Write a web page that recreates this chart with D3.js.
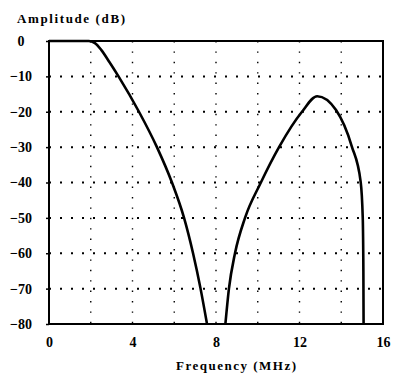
<!DOCTYPE html>
<html>
<head>
<meta charset="utf-8">
<script src="https://cdn.jsdelivr.net/npm/d3@7"></script>
<style>
  html, body { margin: 0; padding: 0; background: #fff; }
  text { font-family: "Liberation Serif", serif; font-weight: bold; fill: #000; }
</style>
</head>
<body>
<div id="chart"></div>
<script>
// values
const xTicks = [0, 4, 8, 12, 16];
const xGrid = [2, 4, 6, 8, 10, 12, 14];
const yTicks = [0, -10, -20, -30, -40, -50, -60, -70, -80];
const yGrid = [-10, -20, -30, -40, -50, -60, -70];

// low-pass response (MHz, dB)
const lowFreq = [0, 1.9, 2.2, 2.5, 2.9, 3.33, 4.31, 5.17, 5.89, 6.47, 6.9, 7.26, 7.57];
const lowAmp = [0, 0, -0.6, -2.5, -6, -10, -20, -30, -40, -50, -60, -70, -80];

// band-pass response (MHz, dB)
const bandFreq = [8.45, 8.62, 8.91, 9.39, 10.15, 11.02, 12.12, 12.85, 13.75, 14.5, 14.93, 15.03, 15.06, 15.07];
const bandAmp = [-80, -70, -60, -50, -40, -30, -20, -15.6, -19.5, -29.7, -39.8, -50, -65, -80];

const width = 401, height = 380;
const plotLeft = 49, plotRight = 383, plotTop = 41, plotBottom = 324;

const svg = d3.select("#chart").append("svg")
  .attr("width", width)
  .attr("height", height);

const x = d3.scaleLinear().domain([0, 16]).range([plotLeft, plotRight]);
const y = d3.scaleLinear().domain([0, -80]).range([plotTop, plotBottom]);

// dotted grid
svg.append("g")
  .selectAll("line")
  .data(xGrid)
  .join("line")
  .attr("x1", d => x(d)).attr("x2", d => x(d))
  .attr("y1", plotTop).attr("y2", plotBottom)
  .attr("stroke", "#000")
  .attr("stroke-width", 1.4)
  .attr("stroke-dasharray", "1.4,9");

svg.append("g")
  .selectAll("line")
  .data(yGrid)
  .join("line")
  .attr("x1", plotLeft).attr("x2", plotRight)
  .attr("y1", d => y(d)).attr("y2", d => y(d))
  .attr("stroke", "#000")
  .attr("stroke-width", 2)
  .attr("stroke-dasharray", "2,9");

// axes (labels + short ticks)
const yAxis = svg.append("g")
  .attr("transform", `translate(${plotLeft},0)`)
  .call(d3.axisLeft(y).tickValues(yTicks).tickSize(3).tickPadding(13).tickFormat(d3.format("d")));
yAxis.select(".domain").remove();
yAxis.selectAll("line").attr("stroke-width", 1.5);
yAxis.selectAll("text")
  .attr("x", 21 - plotLeft)
  .attr("text-anchor", "middle")
  .style("font-family", "Liberation Serif, serif")
  .style("font-weight", "bold")
  .style("font-size", "14px");

const xAxis = svg.append("g")
  .attr("transform", `translate(0,${plotBottom})`)
  .call(d3.axisBottom(x).tickValues(xTicks).tickSize(0).tickPadding(13).tickFormat(d3.format("d")));
xAxis.select(".domain").remove();
xAxis.selectAll("text")
  .style("font-family", "Liberation Serif, serif")
  .style("font-weight", "bold")
  .style("font-size", "14px");

// frame
svg.append("rect")
  .attr("x", plotLeft).attr("y", plotTop)
  .attr("width", plotRight - plotLeft).attr("height", plotBottom - plotTop)
  .attr("fill", "none")
  .attr("stroke", "#000")
  .attr("stroke-width", 2);

// curves
const line = d3.line()
  .x(d => x(d[0]))
  .y(d => y(d[1]))
  .curve(d3.curveMonotoneX);

const series = [
  d3.zip(lowFreq, lowAmp),
  d3.zip(bandFreq, bandAmp)
];

svg.append("g")
  .selectAll("path")
  .data(series)
  .join("path")
  .attr("d", line)
  .attr("fill", "none")
  .attr("stroke", "#000")
  .attr("stroke-width", 2.6)
  .attr("stroke-linejoin", "round");

// titles
svg.append("text")
  .attr("x", 17).attr("y", 23)
  .attr("font-size", 13)
  .attr("textLength", 108)
  .text("Amplitude (dB)");

svg.append("text")
  .attr("x", (plotLeft + plotRight) / 2 + 20).attr("y", 370)
  .attr("text-anchor", "middle")
  .attr("font-size", 13)
  .attr("textLength", 120)
  .text("Frequency (MHz)");
</script>
</body>
</html>
